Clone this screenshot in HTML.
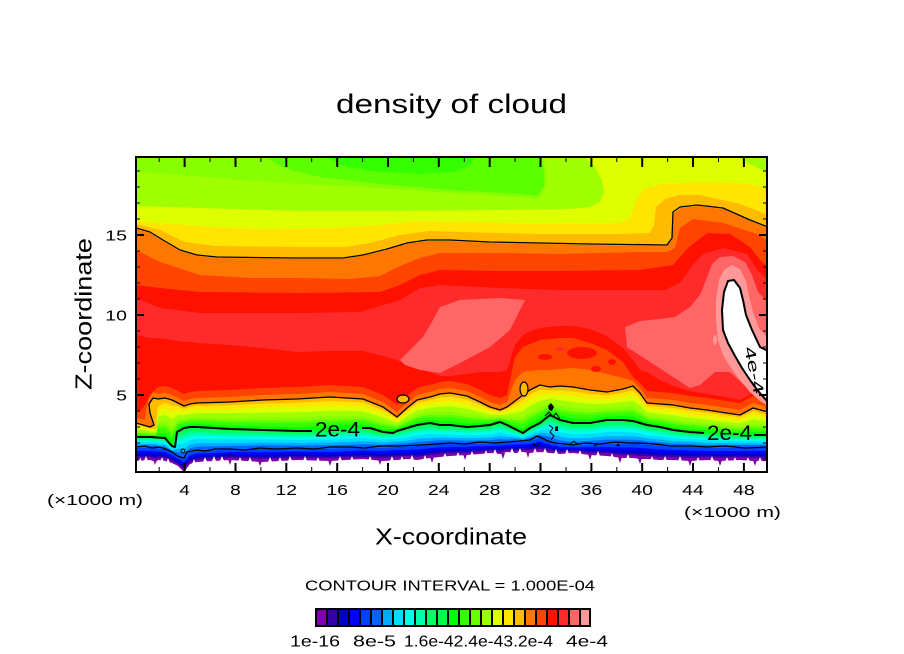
<!DOCTYPE html>
<html>
<head>
<meta charset="utf-8">
<style>
html,body{margin:0;padding:0;background:#fff;}
svg{display:block;}
text{font-family:"Liberation Sans",sans-serif;fill:#000;}
</style>
</head>
<body>
<svg width="904" height="654" viewBox="0 0 904 654" xmlns="http://www.w3.org/2000/svg">
<defs>
<clipPath id="c"><rect x="136" y="157" width="631" height="315"/></clipPath>
</defs>
<rect x="0" y="0" width="904" height="654" fill="#fff"/>

<g clip-path="url(#c)">
<rect x="136" y="157" width="631" height="315" fill="#fff"/>
<!-- low levels: top edge to B_k -->
<path fill="#7f00aa" d="M136,150 L768,150 L768,461 753,461 740,460 720,461 707,460 690,461 673,460 660,460 647,459 640,459 633,458 623,458 607,456 590,455 573,453 560,454 550,453 540,452 530,453 523,452 515,453 507,452 500,454 490,453 480,454 467,455 450,456 440,457 430,458 417,460 407,459 397,460 383,461 363,459 330,461 297,460 263,462 230,460 197,462 190,464 184,472 178,466 172,463 165,461 158,460 156,462 150,460 136,461 Z"/>
<path fill="#3300aa" d="M136,150 L768,150 L768,458 753,458 740,457 720,458 707,457 690,458 673,457 660,457 647,456 640,456 633,455 623,455 607,453 590,453 573,451 560,452 550,451 540,449 530,450 523,450 515,451 507,450 500,452 490,451 480,452 467,453 450,453 440,454 430,455 417,457 407,456 397,457 383,458 363,457 330,458 297,458 263,459 230,458 197,460 190,462 184,469 178,464 172,461 165,458 158,458 156,459 150,457 136,458 Z"/>
<path fill="#0000cc" d="M136,150 L768,150 L768,456 753,456 740,455.5 720,456 707,455.5 690,456 673,455 660,455 647,454 640,453.5 633,453 623,453 607,451.5 590,451 573,450 560,450.5 550,449 540,447 530,448.5 523,448 515,449 507,448.5 500,450 490,449.5 480,450 467,451 450,451.5 440,452 430,453 417,455 407,454.5 397,455 383,456 363,455 330,456.5 297,456 263,457 230,456 197,458 190,460 184,467 178,462.5 172,459 165,456.5 158,456 156,457 150,455.5 136,456 Z"/>
<path fill="#0000ff" d="M136,150 L768,150 L768,454 753,454 740,453.5 720,454 707,453.5 690,453.5 673,453 660,452.5 647,451.5 640,451 633,450.5 623,450.5 607,449.5 590,449.5 573,449 560,449 550,447 540,444.5 530,446.5 523,446.5 515,447 507,447 500,448 490,448 480,448.5 467,449 450,449.5 440,450 430,451 417,452.5 407,452.5 397,453 383,454 363,453 330,454.5 297,454 263,455 230,454.5 197,456 190,458 184,465 178,461 172,457.5 165,454.5 158,454 156,454.5 150,453.5 136,454 Z"/>
<path fill="#0040ff" d="M136,150 L768,150 L768,451 753,451 740,451 720,451 707,451 690,450.5 673,450 660,449.5 647,448.5 640,448 633,447.5 623,447.5 607,447 590,447.3 573,447.4 560,447 550,444.6 540,441.5 530,444 523,444.3 515,444.6 507,445 500,445.6 490,446 480,446.3 467,446.6 450,447 440,447.2 430,448.2 417,449.5 407,450 397,450 383,451 363,450.6 330,452 297,451.6 263,452.2 230,452.3 197,453.6 190,455.6 184,462 178,459 172,455.3 165,452 158,451.6 156,451.5 150,451 136,451 Z"/>
<path fill="#0066ff" d="M136,150 L768,150 L768,448 753,448 740,448 720,448 707,448 690,447 673,447 660,446 647,445 640,444 633,444 623,444 607,444 590,445 573,446 560,445 550,442 540,438 530,441 523,442 515,442 507,443 500,443 490,444 480,444 467,444 450,444 440,444 430,445 417,446 407,447 397,447 383,448 363,448 330,449 297,449 263,449 230,450 197,451 190,453 184,459 178,457 172,453 165,449 158,449 156,448 150,448 136,448 Z"/>
<path fill="#00aaff" d="M136,150 L768,150 L768,445 753,445 740,445 720,445 707,445 690,444 673,443.6 660,442.3 647,441.2 640,440 633,439.7 623,439.6 607,439.6 590,440.9 573,441.7 560,440.4 550,437 540,435 530,438 523,439.8 515,439 507,439.5 500,439 490,440.3 480,440.5 467,440.6 450,440.3 440,440.3 430,441 417,442 407,443.3 397,443.8 383,444.8 363,444.2 330,445.3 297,445.5 263,445.3 230,446 197,446.6 190,448.3 184,453.5 178,452.3 172,451 165,446.5 158,446.4 156,445.5 150,445.5 136,445.5 Z"/>
<path fill="#00ddff" d="M136,150 L768,150 L768,443.4 753,443.4 740,443.4 720,443 707,442.8 690,441.8 673,441.2 660,439.6 647,438.3 640,437 633,436.4 623,436 607,436 590,437.7 573,438.4 560,436.8 550,433.2 540,432.8 530,436.4 523,438.6 515,437.4 507,437 500,436 490,437.6 480,438 467,438.2 450,437.6 440,437.6 430,437.7 417,439 407,440.6 397,441.5 383,442.5 363,441.3 330,442.6 297,443 263,442.6 230,443 197,443 190,444.5 184,449 178,448.5 172,450.2 165,445 158,444.7 156,444 150,444 136,444 Z"/>
<path fill="#00ffe8" d="M136,150 L768,150 L768,441.2 753,441.2 740,441.2 720,440.8 707,440.3 690,439.3 673,438.3 660,436.4 647,435 640,433.4 633,432.4 623,432 607,432 590,434 573,434.4 560,432.5 550,428.5 540,430.3 530,434.2 523,437.2 515,435.2 507,433.8 500,432.4 490,434.4 480,434.8 467,435.3 450,434.4 440,434.4 430,434 417,435.4 407,437.4 397,438.8 383,439.8 363,438 330,439.4 297,439.8 263,439.4 230,439.4 197,439 190,440 184,443.6 178,444 172,449.1 165,443.2 158,442.7 156,442.2 150,442.2 136,442.2 Z"/>
<path fill="#00ffaa" d="M136,150 L768,150 L768,439.3 753,439.3 740,439.3 720,438.7 707,438 690,437 673,435.8 660,433.5 647,431.8 640,430.2 633,429 623,428.3 607,428.3 590,430.6 573,431 560,428.6 550,424.4 540,428 530,432.3 523,435.9 515,433.3 507,431.1 500,429.2 490,431.5 480,432.1 467,432.8 450,431.5 440,431.5 430,430.6 417,432.2 407,434.5 397,436.4 383,437.4 363,434.8 330,436.5 297,437.1 263,436.5 230,436.2 197,435.3 190,436 184,438.8 178,440 172,448.2 165,441.6 158,441 156,440.6 150,440.6 136,440.6 Z"/>
<path fill="#00ff66" d="M136,150 L768,150 L768,437.6 753,437.6 740,437.6 720,436.9 707,436.1 690,435.1 673,433.5 660,431 647,429.2 640,427.4 633,425.8 623,425.1 607,425.1 590,427.6 573,427.8 560,425.3 550,420.7 540,426.1 530,430.6 523,434.8 515,431.6 507,428.7 500,426.4 490,429 480,429.7 467,430.5 450,429 440,429 430,427.6 417,429.4 407,432 397,434.3 383,435.3 363,432.2 330,434 297,434.7 263,434 230,433.4 197,432.1 190,432.5 184,434.6 178,436.5 172,447.3 165,440.2 158,439.4 156,439.2 150,439.2 136,439.2 Z"/>
<path fill="#00ff44" d="M136,150 L768,150 L768,436.2 753,436.2 740,436.2 720,435.3 707,434.4 690,433.4 673,431.6 660,428.8 647,426.9 640,425 633,423.2 623,422.3 607,422.3 590,425.1 573,425.2 560,422.4 550,417.6 540,424.4 530,429.2 523,433.8 515,430.2 507,426.7 500,424 490,426.8 480,427.7 467,428.6 450,426.8 440,426.8 430,425.1 417,427 407,429.8 397,432.5 383,433.5 363,429.9 330,431.8 297,432.7 263,431.8 230,431 197,429.3 190,429.5 184,431 178,433.5 172,446.6 165,439 158,438.1 156,438 150,438 136,438 Z"/>
<path fill="#00ff00" d="M136,150 L768,150 L768,435 753,435 740,435 720,434 707,433 690,432 673,430 660,427 647,425 640,423 633,421 623,420 607,420 590,423 573,423 560,420 550,415 540,423 530,428 523,433 515,429 507,425 500,422 490,425 480,426 467,427 450,425 440,425 430,423 417,425 407,428 397,431 383,432 363,428 330,430 297,431 263,430 230,429 197,427 190,427 184,428 178,431 172,446 165,438 158,437 156,437 150,437 136,437 Z"/>
<path fill="#33ff00" d="M136,150 L768,150 L768,432.2 753,431.8 740,432.6 720,431.4 707,430.2 690,429.1 673,427 660,424.2 647,422.4 640,419.4 633,416.8 623,416.3 607,416.6 590,419 573,418.7 560,415.9 550,411.6 540,418.4 530,423.4 523,428.4 515,425.6 507,422.8 500,420.6 490,422.8 480,423.1 467,423.3 450,421.2 440,421.3 430,419.9 417,422 407,425.6 397,429.3 383,429 363,424.5 330,426 297,427.2 263,426.4 230,425.8 197,424.1 190,424.2 184,425.4 178,427.6 172,440.5 165,433.2 158,432.8 156,435.9 150,435.8 136,435.3 Z"/>
<!-- upper levels -->
<path fill="#5cff00" d="M136,150 L325,150 325,156 340,165 370,171 420,174 455,172 470,165 476,156 476,150 768,150 L768,429.5 753,428.5 740,430.2 720,428.7 707,427.5 690,426.2 673,424 660,421.5 647,419.7 640,415.8 633,412.6 623,412.6 607,413.3 590,415.1 573,414.4 560,411.8 550,408.3 540,413.9 530,418.9 523,423.9 515,422.3 507,420.7 500,419.1 490,420.7 480,420.2 467,419.6 450,417.3 440,417.6 430,416.8 417,419 407,423.2 397,427.6 383,426 363,421 330,422.1 297,423.3 263,422.8 230,422.5 197,421.2 190,421.5 184,422.7 178,424.3 172,435 165,428.4 158,428.6 156,434.8 150,434.6 136,433.6 Z"/>
<path fill="#88ff00" d="M136,150 L265,150 265,156 275,163 290,170 320,177 380,184 450,190 520,194 538,196 544,186 544,170 541,156 541,150 768,150 L768,427.6 753,426.4 740,428.6 720,427 707,425.6 690,424.3 673,422 660,419.6 647,418 640,413.4 633,409.8 623,410.1 607,411 590,412.4 573,411.5 560,409.1 550,406 540,410.8 530,415.8 523,420.8 515,420 507,419.2 500,418.2 490,419.2 480,418.3 467,417.1 450,414.8 440,415.1 430,414.7 417,417 407,421.6 397,426.5 383,424 363,418.7 330,419.4 297,420.8 263,420.4 230,420.4 197,419.3 190,419.6 184,421 178,422 172,431.3 165,425.2 158,425.8 156,434.1 150,433.8 136,432.5 Z"/>
<path fill="#a0ff00" d="M136,172 L180,175 230,179 270,182 300,184 340,186 380,188 450,193 520,197 538,199 546,186 546,170 543,156 543,150 768,150 L768,425.3 753,423.7 740,426.6 720,424.8 707,423.3 690,421.9 673,419.5 660,417.3 647,415.8 640,410.4 633,406.3 623,407 607,408.2 590,409.1 573,407.9 560,405.7 550,403.2 540,407 530,412 523,417 515,417.2 507,417.4 500,417 490,417.4 480,415.9 467,414 450,411.6 440,412 430,412.1 417,414.5 407,419.6 397,425.1 383,421.5 363,415.8 330,416.1 297,417.6 263,417.4 230,417.7 197,416.9 190,417.3 184,418.8 178,419.2 172,426.7 165,421.2 158,422.3 156,433.2 150,432.8 136,431.1 Z"/>
<path fill="#ddff00" d="M136,206 L200,208 300,211 400,211 500,210 570,209 590,207 600,202 604,193 602,180 594,166 584,156 584,150 738,150 738,156 750,164 760,169 768,172 L768,421.7 753,419.3 740,423.4 720,421.2 707,419.7 690,418.1 673,415.5 660,413.7 647,412.2 640,405.6 633,400.7 623,402 607,403.8 590,403.9 573,402.1 560,400.3 550,398.8 540,401 530,406 523,411 515,412.8 507,414.6 500,415 490,414.6 480,412.1 467,409 450,406.4 440,407 430,407.9 417,410.5 407,416.4 397,422.9 383,417.5 363,411.2 330,410.9 297,412.4 263,412.6 230,413.3 197,413.1 190,413.7 184,415.2 178,414.8 172,419.3 165,414.8 158,416.7 156,431.8 150,431.2 136,428.9 Z"/>
<path fill="#ffe600" d="M136,221 L200,226 257,229 330,228 380,225 418,221 480,222 539,224 620,223 630,218 636,200 644,189 660,184 700,182 741,183 768,187 L768,418 753,415 740,420.2 720,417.7 707,416 690,414.2 673,411.5 660,410 647,408.7 640,400.8 633,395.1 623,397.1 607,399.3 590,398.6 573,396.4 560,394.8 550,394.3 540,394.9 530,399.9 523,404.9 515,408.3 507,411.7 500,413.1 490,411.7 480,408.2 467,404.1 450,401.3 440,402.1 430,403.8 417,406.5 407,413.2 397,420.6 383,413.5 363,406.5 330,405.6 297,407.3 263,407.8 230,409 197,409.2 190,410 184,411.7 178,410.3 172,412 165,408.4 158,411.1 156,430.3 150,429.6 136,426.6 Z"/>
<path fill="#ffbb00" d="M136,224 L160,230 185,242 215,246 300,247 345,247 370,243 400,235 430,231 460,232 540,234 620,234 650,233 654,225 656,207 665,199 680,195 700,195 740,204 768,215 L768,414.8 753,411.2 740,417.4 720,414.6 707,412.8 690,410.9 673,408 660,406.8 647,405.6 640,396.6 633,390.2 623,392.7 607,395.4 590,394 573,391.3 560,390.1 550,390.4 540,389.6 530,394.6 523,399.6 515,404.4 507,409.2 500,411.4 490,409.2 480,404.9 467,399.7 450,396.8 440,397.7 430,400.1 417,403 407,410.4 397,418.7 383,410 363,402.5 330,401 297,402.8 263,403.6 230,405.2 197,405.9 190,406.8 184,408.6 178,406.4 172,405.5 165,402.8 158,406.2 156,429.1 150,428.2 136,424.7 Z"/>
<path fill="#ff7700" d="M136,229 L150,233 163,241 180,251 197,256 217,258 293,259 343,259 363,256 387,250 407,244 427,241 450,241 490,243 590,245 667,246 672,239 674,213 681,208 697,206 723,209 750,221 768,228 L768,412 753,408 740,415 720,412 707,410 690,408 673,405 660,404 647,403 640,393 633,386 623,389 607,392 590,390 573,387 560,386 550,387 540,385 530,390 523,395 515,401 507,407 500,410 490,407 480,402 467,396 450,393 440,394 430,397 417,400 407,408 397,417 383,407 363,399 330,397 297,399 263,400 230,402 197,403 190,404 184,406 178,403 172,400 165,398 158,399 153,398 149,404 150,413 154,425 150,427 136,423 Z"/>
<path fill="#ff4400" d="M136,250 L160,262 200,275 250,278 300,278 350,279 380,276 400,266 420,258 440,253 500,253 560,254 640,252 667,252 675,248 680,228 693,219 723,223 757,234 768,241 L768,407 753,403 740,410 720,407 707,405 690,403 673,400 660,399 647,398 640,388 633,381 623,378 607,374 590,370 573,368 560,369 550,370 540,370 530,371 523,372 515,380 507,402 500,405 490,402 480,397 467,391 450,388 440,389 430,392 417,395 407,403 397,412 383,402 363,394 330,392 297,394 263,395 230,397 197,398 190,399 184,401 178,398 172,395 165,393 158,394 153,392 149,399 146,410 145,420 136,418 Z"/>
<path fill="#ff1100" d="M136,285 L160,288 200,292 300,293 380,292 400,285 420,275 440,270 500,271 560,271 640,270 673,265 688,248 697,241 707,233 730,234 750,247 760,260 768,267 L768,400 753,396 740,403 720,400 707,398 690,396 673,393 660,392 647,391 640,383 633,377 623,362 607,350 590,343 573,338 560,338 550,339 540,340 530,344 523,347 515,357 507,395 500,398 490,395 480,390 467,384 450,381 440,382 430,385 417,388 407,396 397,405 383,395 363,387 330,385 297,387 263,388 230,390 197,391 190,392 184,394 178,391 172,388 165,386 158,387 150,395 145,405 140,411 136,411 Z"/>
<path fill="#ff2a2a" d="M136,298 L160,308 200,313 300,313 360,312 400,300 420,288 440,285 500,288 560,290 620,290 665,290 680,283 692,266 703,254 723,248 747,254 757,270 768,280 L768,396 753,393 740,400 720,396 707,394 690,391 673,386 660,380 647,372 640,370 633,360 623,348 607,336 590,329 573,326 560,326 550,327 540,328 530,331 523,335 515,345 507,370 500,372 490,372 480,372 467,374 450,376 440,376 430,372 417,368 407,365 397,360 383,356 363,351 330,351 297,352 263,348 230,345 197,343 190,342 184,342 178,341 172,340 165,339 158,338 150,338 136,335 Z"/>

<!-- dome inner spots -->
<ellipse cx="582" cy="353" rx="15" ry="6" fill="#ff1100"/>
<ellipse cx="545" cy="357" rx="7" ry="3" fill="#ff1100"/>
<ellipse cx="596" cy="369" rx="5" ry="3" fill="#ff1100"/>
<ellipse cx="612" cy="362" rx="4" ry="3" fill="#ff1100"/>
<ellipse cx="560" cy="349" rx="4" ry="2" fill="#ff2a2a"/>

<!-- pink patches -->
<path fill="#ff6666" d="M400,360 L410,350 423,337 433,320 440,307 460,300 500,298 525,300 520,310 510,330 490,347 460,363 440,373 420,370 405,365 Z"/>
<path fill="#ff6666" d="M625,327 L640,321 660,319 675,317 690,307 700,295 706,280 712,264 720,257 733,256 745,262 752,275 758,292 768,302 768,400 757,394 745,386 730,372 715,372 700,385 690,388 673,377 647,360 627,347 Z"/>
<path fill="#ff9999" d="M719,280 L724,270 732,265 740,269 746,281 749,296 753,312 759,328 768,338 768,406 760,401 750,392 740,380 731,368 723,355 718,340 716,320 716,300 Z"/>
<ellipse cx="715" cy="340" rx="2" ry="5" fill="#ff9999"/>
<path fill="#ffffff" d="M728,281 L724,292 722,310 723,330 728,343 735,356 742,368 750,380 758,391 767,401 770,402 770,352 760,347 752,330 746,315 743,300 740,288 734,280 Z"/>

<!-- white jagged spikes into purple -->
<path fill="#fff" d="M138,462 L140,457 142,462Z M144,461 L146,456 148,461Z M160,462 L162,457 164,462Z M166,463 L168,458 170,463Z M192,464 L194,459 196,464Z M203,462 L205,457 207,462Z M212,461 L214,456 216,461Z M220,461 L222,456 224,461Z M238,462 L240,457 242,462Z M248,462 L250,457 252,462Z M268,462 L270,457 272,462Z M278,462 L280,457 282,462Z M288,461 L290,456 292,461Z M303,461 L305,456 307,461Z M316,462 L318,457 320,462Z M338,461 L340,456 342,461Z M350,461 L352,456 354,461Z M368,461 L370,456 372,461Z M390,461 L392,456 394,461Z M400,461 L402,456 404,461Z M410,460 L412,455 414,460Z M423,460 L425,455 427,460Z M443,458 L445,453 447,458Z M456,457 L458,452 460,457Z M470,456 L472,451 474,456Z M484,455 L486,450 488,455Z M493,454 L495,449 497,454Z M510,453 L512,448 514,453Z M518,453 L520,448 522,453Z M533,453 L535,448 537,453Z M543,453 L545,448 547,453Z M554,454 L556,449 558,454Z M565,454 L567,449 569,454Z M578,455 L580,450 582,455Z M596,456 L598,451 600,456Z M610,458 L612,453 614,458Z M626,459 L628,454 630,459Z M650,461 L652,456 654,461Z M663,461 L665,456 667,461Z M678,461 L680,456 682,461Z M696,462 L698,457 700,462Z M710,461 L712,456 714,461Z M725,462 L727,457 729,462Z M733,462 L735,457 737,462Z M746,462 L748,457 750,462Z M758,462 L760,457 762,462Z"/>
<path fill="#7f00aa" d="M153,459 L155,465 157,459Z M228,459 L230,465 232,459Z M258,461 L260,466 262,461Z M328,460 L330,466 332,460Z M378,459 L380,465 382,459Z M430,457 L432,463 434,457Z M463,454 L465,460 467,454Z M501,453 L503,459 505,453Z M526,451 L528,458 530,451Z M588,454 L590,460 592,454Z M618,457 L620,463 622,457Z M638,458 L640,464 642,458Z M688,460 L690,466 692,460Z M718,460 L720,466 722,460Z M753,460 L755,466 757,460Z"/>

<!-- contour lines -->
<g fill="none" stroke="#000" stroke-linejoin="round">
<path stroke-width="1.3" d="M136,228 L150,232 163,240 180,250 197,255 217,257 293,258 343,258 363,255 387,249 407,243 427,240 450,240 490,242 590,244 667,245 672,238 673,212 680,207 697,205 723,208 750,220 768,227"/>
<path stroke-width="1.3" d="M136,423 L150,427 154,425 150,413 149,404 153,398 158,399 165,398 172,400 178,403 184,406 190,404 197,403 230,402 263,400 297,399 330,397 363,399 383,407 397,417 407,408 417,400 430,397 440,394 450,393 467,396 480,402 490,407 500,410 507,407 515,401 523,395 530,390 540,385 550,387 560,386 573,387 590,390 607,392 623,389 633,386 640,393 647,403 660,404 673,405 690,408 707,410 720,412 740,415 753,408 768,412"/>
<path stroke-width="2" d="M136,437 L150,437 165,438 170,444 172,446 175,447 177,432 184,428 190,427 197,427 230,429 263,430 297,431 312,431"/>
<path stroke-width="2" d="M362,428 L370,428 383,432 393,433 397,431 407,428 417,425 430,423 440,425 450,425 467,427 480,426 490,425 500,422 507,425 515,429 523,433 530,428 540,423 550,415 560,420 573,423 590,423 607,420 623,420 633,421 640,423 647,425 660,427 673,430 690,432 704,433"/>
<path stroke-width="2" d="M754,435 L768,435"/>
<path stroke-width="1.3" d="M136,447 L145,446 152,448 158,447 163,448 168,450 172,452 176,455 180,457 184,458 187,452 192,451 197,450 205,451 215,449 230,449 245,450 260,448 275,449 297,448 315,449 330,447 350,447 365,448 380,446 400,446 420,445 435,444 450,443 465,444 480,442 495,443 507,442 520,441 530,440 537,436 542,438 548,441 555,443 565,444 573,445 585,443 600,444 615,442 630,443 640,443 655,444 670,446 690,446 707,447 725,446 745,448 768,447"/>
<path stroke-width="2" d="M770,402 L767,401 758,391 750,380 742,368 735,356 728,343 723,330 722,310 724,292 728,281 734,280 740,288 743,300 746,315 752,330 760,347 770,352"/>
<circle cx="183" cy="451" r="2" stroke-width="1"/>
<path stroke-width="1" d="M545,416 L549,412 553,417 556,413 560,419 M549,425 L553,428 550,432 554,436 551,440 M570,444 L574,441 578,445 M536,446 L540,443 M594,446 L598,444"/>
</g>
<ellipse cx="403" cy="399" rx="6" ry="4" fill="#ffbb00" stroke="#000" stroke-width="1.2"/>
<ellipse cx="524" cy="389" rx="4" ry="7" fill="#ffbb00" stroke="#000" stroke-width="1.2"/>
<path fill="#000" d="M548,406 L551,403 554,407 552,411 549,410 Z M555,427 L558,426 558,431 555,431Z M616,446 L618,443 620,446Z M532,446 L534,443 536,446Z"/>

<text x="315" y="436.5" font-size="21" textLength="45" lengthAdjust="spacingAndGlyphs">2e-4</text>
<text x="707" y="440" font-size="21" textLength="45" lengthAdjust="spacingAndGlyphs">2e-4</text>
<text transform="translate(754,370) rotate(78)" x="-24" y="5" font-size="15" textLength="48" lengthAdjust="spacingAndGlyphs">4e-4</text>
</g>

<!-- frame -->
<rect x="136" y="157" width="631" height="315" fill="none" stroke="#000" stroke-width="2"/>
<!-- ticks -->
<path stroke="#000" stroke-width="2" fill="none" d="M184.6,472V463 M235.5,472V463 M286.3,472V463 M337.2,472V463 M388,472V463 M438.8,472V463 M489.7,472V463 M540.5,472V463 M591.4,472V463 M642.2,472V463 M693,472V463 M743.9,472V463 M184.6,157V167 M235.5,157V167 M286.3,157V167 M337.2,157V167 M388,157V167 M438.8,157V167 M489.7,157V167 M540.5,157V167 M591.4,157V167 M642.2,157V167 M693,157V167 M743.9,157V167 M136,395H144 M136,315H144 M136,235H144 M767,395H759 M767,315H759 M767,235H759"/>
<path stroke="#000" stroke-width="1" fill="none" d="M159.2,472V467 M210,472V467 M260.9,472V467 M311.7,472V467 M362.6,472V467 M413.4,472V467 M464.3,472V467 M515.1,472V467 M566,472V467 M616.8,472V467 M667.6,472V467 M718.5,472V467 M159.2,157V162 M210,157V162 M260.9,157V162 M311.7,157V162 M362.6,157V162 M413.4,157V162 M464.3,157V162 M515.1,157V162 M566,157V162 M616.8,157V162 M667.6,157V162 M718.5,157V162 M136,459H140 M136,443H140 M136,427H140 M136,411H140 M136,379H140 M136,363H140 M136,347H140 M136,331H140 M136,299H140 M136,283H140 M136,267H140 M136,251H140 M136,219H140 M136,203H140 M136,187H140 M136,171H140 M767,459H763 M767,443H763 M767,427H763 M767,411H763 M767,379H763 M767,363H763 M767,347H763 M767,331H763 M767,299H763 M767,283H763 M767,267H763 M767,251H763 M767,219H763 M767,203H763 M767,187H763 M767,171H763"/>

<!-- title & labels -->
<text x="336" y="113" font-size="27" textLength="231" lengthAdjust="spacingAndGlyphs">density of cloud</text>
<text x="375" y="544.5" font-size="23" textLength="152" lengthAdjust="spacingAndGlyphs">X-coordinate</text>
<text transform="translate(91.5,390) rotate(-90)" font-size="23" textLength="152" lengthAdjust="spacingAndGlyphs">Z-coordinate</text>

<g font-size="15">
<text x="179.3" y="495" textLength="10.6" lengthAdjust="spacingAndGlyphs">4</text>
<text x="230.2" y="495" textLength="10.6" lengthAdjust="spacingAndGlyphs">8</text>
<text x="275.5" y="495" textLength="21.6" lengthAdjust="spacingAndGlyphs">12</text>
<text x="326.4" y="495" textLength="21.6" lengthAdjust="spacingAndGlyphs">16</text>
<text x="377.2" y="495" textLength="21.6" lengthAdjust="spacingAndGlyphs">20</text>
<text x="428" y="495" textLength="21.6" lengthAdjust="spacingAndGlyphs">24</text>
<text x="478.9" y="495" textLength="21.6" lengthAdjust="spacingAndGlyphs">28</text>
<text x="529.7" y="495" textLength="21.6" lengthAdjust="spacingAndGlyphs">32</text>
<text x="580.6" y="495" textLength="21.6" lengthAdjust="spacingAndGlyphs">36</text>
<text x="631.4" y="495" textLength="21.6" lengthAdjust="spacingAndGlyphs">40</text>
<text x="682.2" y="495" textLength="21.6" lengthAdjust="spacingAndGlyphs">44</text>
<text x="733.1" y="495" textLength="21.6" lengthAdjust="spacingAndGlyphs">48</text>
<text x="105.3" y="240.6" textLength="21.7" lengthAdjust="spacingAndGlyphs">15</text>
<text x="105.3" y="320.6" textLength="21.7" lengthAdjust="spacingAndGlyphs">10</text>
<text x="116.3" y="400.6" textLength="10.7" lengthAdjust="spacingAndGlyphs">5</text>
<text x="47" y="505" textLength="96" lengthAdjust="spacingAndGlyphs">(×1000 m)</text>
<text x="684" y="516.8" textLength="97" lengthAdjust="spacingAndGlyphs">(×1000 m)</text>
<text x="305" y="590.7" textLength="290" lengthAdjust="spacingAndGlyphs">CONTOUR INTERVAL = 1.000E-04</text>
</g>

<!-- colorbar -->
<rect x="315" y="608" width="276" height="19" fill="#000"/>
<g>
<rect x="317" y="610" width="9" height="15" fill="#7f00aa"/>
<rect x="328" y="610" width="9" height="15" fill="#3300aa"/>
<rect x="339" y="610" width="9" height="15" fill="#0000cc"/>
<rect x="350" y="610" width="9" height="15" fill="#0000ff"/>
<rect x="361" y="610" width="9" height="15" fill="#0040ff"/>
<rect x="372" y="610" width="9" height="15" fill="#0066ff"/>
<rect x="383" y="610" width="9" height="15" fill="#00aaff"/>
<rect x="394" y="610" width="9" height="15" fill="#00ddff"/>
<rect x="405" y="610" width="9" height="15" fill="#00ffe8"/>
<rect x="416" y="610" width="9" height="15" fill="#00ffaa"/>
<rect x="427" y="610" width="9" height="15" fill="#00ff66"/>
<rect x="438" y="610" width="9" height="15" fill="#00ff44"/>
<rect x="449" y="610" width="9" height="15" fill="#00ff00"/>
<rect x="460" y="610" width="9" height="15" fill="#33ff00"/>
<rect x="471" y="610" width="9" height="15" fill="#66ff00"/>
<rect x="482" y="610" width="9" height="15" fill="#99ff00"/>
<rect x="493" y="610" width="9" height="15" fill="#ddff00"/>
<rect x="504" y="610" width="9" height="15" fill="#ffe600"/>
<rect x="515" y="610" width="9" height="15" fill="#ffbb00"/>
<rect x="526" y="610" width="9" height="15" fill="#ff7700"/>
<rect x="537" y="610" width="9" height="15" fill="#ff4400"/>
<rect x="548" y="610" width="9" height="15" fill="#ff1100"/>
<rect x="559" y="610" width="9" height="15" fill="#ff2a2a"/>
<rect x="570" y="610" width="9" height="15" fill="#ff6666"/>
<rect x="581" y="610" width="8" height="15" fill="#ff9999"/>
</g>
<g font-size="16">
<text x="290" y="646.5" textLength="50" lengthAdjust="spacingAndGlyphs">1e-16</text>
<text x="353" y="646.5" textLength="43" lengthAdjust="spacingAndGlyphs">8e-5</text>
<text x="404" y="646.5" textLength="149" lengthAdjust="spacingAndGlyphs">1.6e-42.4e-43.2e-4</text>
<text x="566" y="646.5" textLength="42" lengthAdjust="spacingAndGlyphs">4e-4</text>
</g>
</svg>
</body>
</html>
